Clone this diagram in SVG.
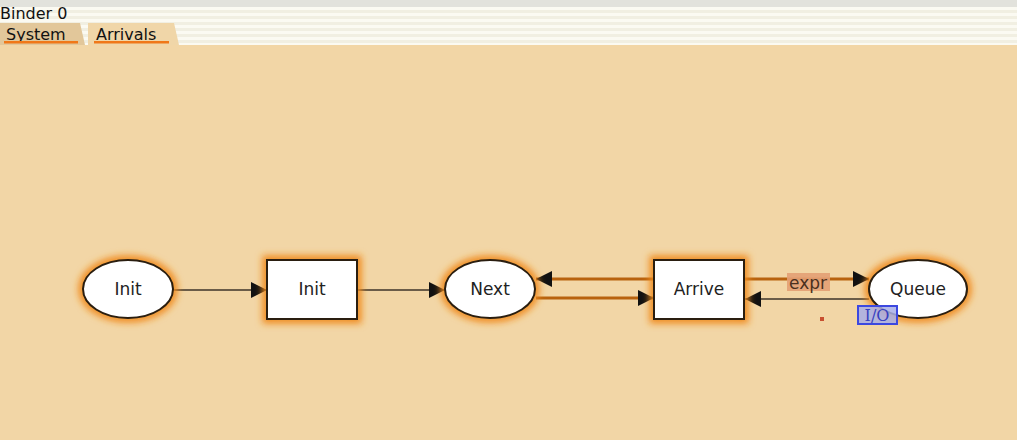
<svg xmlns="http://www.w3.org/2000/svg" width="1017" height="440" viewBox="0 0 1017 440">
<defs>
<pattern id="stripes" x="0" y="7" width="6" height="6" patternUnits="userSpaceOnUse">
<rect width="6" height="3" fill="#fbfaf2"/>
<rect y="3" width="6" height="3" fill="#f1efe2"/>
</pattern>
<filter id="glow" x="-30%" y="-30%" width="160%" height="160%">
<feGaussianBlur stdDeviation="3.5"/>
</filter>
<marker id="ah" viewBox="0 0 10 10" refX="10" refY="5" markerWidth="16" markerHeight="16" markerUnits="userSpaceOnUse" orient="auto">
<path d="M0,0 L10,5 L0,10 z" fill="#111"/>
</marker>
</defs>
<style>
.node{fill:#fff;stroke:#2a1e10;stroke-width:2}
.halo{fill:none;stroke:#f08a1a;stroke-width:9;filter:url(#glow)}
.lbl{font-family:"DejaVu Sans",sans-serif;font-size:17px;fill:#222;text-anchor:middle}
.arcg{stroke:#6a5c48;stroke-width:2;fill:none}
.arco{stroke:#b8620e;stroke-width:3;fill:none}
.tab{font-family:"DejaVu Sans",sans-serif;font-size:16px;fill:#111}
</style>
<rect width="1017" height="440" fill="#f2d6a6"/>
<rect width="1017" height="45" fill="url(#stripes)"/>
<rect width="1017" height="7" fill="#e2e2dc"/>
<g id="header">
<text x="0" y="19" class="tab">Binder 0</text>
<path d="M0,45 L0,23 L80,23 L85,45 z" fill="#e2c79a"/>
<path d="M88,45 L88,23 L174,23 L179,45 z" fill="#f0d6a8"/>
<text x="6" y="40" class="tab">System</text>
<rect x="4" y="41" width="74" height="2.5" fill="#f07818"/>
<text x="96" y="40" class="tab">Arrivals</text>
<rect x="94" y="41" width="75" height="2.5" fill="#f07818"/>
</g>
<g id="connectors">
<line class="arcg" x1="173" y1="290" x2="267" y2="290" marker-end="url(#ah)"/>
<line class="arcg" x1="357" y1="290" x2="445" y2="290" marker-end="url(#ah)"/>
<line class="arco" x1="654" y1="279" x2="536" y2="279" marker-end="url(#ah)"/>
<line class="arco" x1="536" y1="298" x2="654" y2="298" marker-end="url(#ah)"/>
<line class="arco" x1="744" y1="279" x2="869" y2="279" marker-end="url(#ah)"/>
<line class="arcg" x1="869" y1="299" x2="745" y2="299" marker-end="url(#ah)"/>
</g>
<g id="place-init">
<ellipse class="halo" cx="128" cy="289" rx="45" ry="29"/>
<ellipse class="node" cx="128" cy="289" rx="45" ry="29"/>
<text x="128" y="295" class="lbl">Init</text>
</g>
<g id="trans-init">
<rect class="halo" x="267" y="260" width="90" height="59"/>
<rect class="node" x="267" y="260" width="90" height="59"/>
<text x="312" y="295" class="lbl">Init</text>
</g>
<g id="place-next">
<ellipse class="halo" cx="490" cy="289" rx="45" ry="29"/>
<ellipse class="node" cx="490" cy="289" rx="45" ry="29"/>
<text x="490" y="295" class="lbl">Next</text>
</g>
<g id="trans-arrive">
<rect class="halo" x="654" y="260" width="90" height="59"/>
<rect class="node" x="654" y="260" width="90" height="59"/>
<text x="699" y="295" class="lbl">Arrive</text>
</g>
<g id="place-queue">
<ellipse class="halo" cx="918" cy="289" rx="49" ry="29"/>
<ellipse class="node" cx="918" cy="289" rx="49" ry="29"/>
<text x="918" y="295" class="lbl">Queue</text>
</g>
<g id="labels">
<rect x="787" y="273" width="43" height="18" fill="#e3a074" opacity="0.9"/>
<text x="808" y="289" class="lbl" style="font-size:17px;fill:#4a3020">expr</text>
<rect x="858" y="306" width="39" height="18" fill="#a8aee6" stroke="#3c48e0" stroke-width="2" fill-opacity="0.85"/>
<text x="877" y="321" class="lbl" style="font-family:'DejaVu Serif',serif;font-size:16px;fill:#3840c0">I/O</text>
<rect x="820" y="317" width="4" height="4" fill="#c85030"/>
</g>
</svg>
